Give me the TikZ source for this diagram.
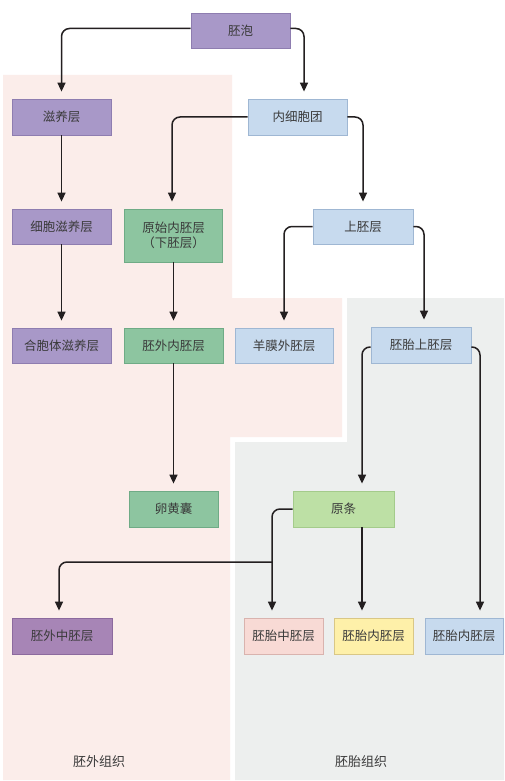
\documentclass[tikz,border=0pt]{standalone}
\usepackage{fontspec}
\setmainfont{Noto Sans CJK SC}
\usetikzlibrary{arrows.meta}
\definecolor{pinkbg}{HTML}{FBEDEA}
\definecolor{graybg}{HTML}{EDEFEE}
\definecolor{purf}{HTML}{A898C8}\definecolor{purd}{HTML}{8E7DB0}
\definecolor{bluf}{HTML}{C7DAEE}\definecolor{blud}{HTML}{9FB7D3}
\definecolor{grnf}{HTML}{8DC5A0}\definecolor{grnd}{HTML}{6FAB86}
\definecolor{lgrf}{HTML}{BDE0A5}\definecolor{lgrd}{HTML}{A4CB8B}
\definecolor{pnkf}{HTML}{F8DAD5}\definecolor{pnkd}{HTML}{D9B3AE}
\definecolor{yelf}{HTML}{FEF0A9}\definecolor{yeld}{HTML}{D9C786}
\definecolor{mauf}{HTML}{A785B6}\definecolor{maud}{HTML}{8C6A9E}
\definecolor{txt}{HTML}{3A3A3A}
\definecolor{lin}{HTML}{231F20}
\begin{document}
\begin{tikzpicture}[x=1pt,y=-1pt,
  box/.style={draw, line width=0.8pt, inner sep=0pt, align=center,
    text=txt, font=\fontsize{12.5}{15}\selectfont,
    minimum width=99pt, minimum height=35pt},
  purbox/.style={box, fill=purf, draw=purd},
  blubox/.style={box, fill=bluf, draw=blud},
  grnbox/.style={box, fill=grnf, draw=grnd},
  lgrbox/.style={box, fill=lgrf, draw=lgrd},
  pnkbox/.style={box, fill=pnkf, draw=pnkd},
  yelbox/.style={box, fill=yelf, draw=yeld},
  maubox/.style={box, fill=mauf, draw=maud},
  arr/.style={draw=lin, line width=1.5pt, rounded corners=8pt,
    -{Triangle[length=9pt,width=8pt]}},
  region/.style={font=\fontsize{13}{15}\selectfont, text=txt}]
\useasboundingbox (0,0) rectangle (504,781);
\fill[white] (0,0) rectangle (504,781);
% background regions
\fill[pinkbg] (3,75) -- (232,75) -- (232,298) -- (342,298) -- (342,437)
  -- (230,437) -- (230,780) -- (3,780) -- cycle;
\fill[graybg] (347,298) -- (504,298) -- (504,780) -- (235,780)
  -- (235,442) -- (347,442) -- cycle;
% nodes
\node[purbox] (bp) at (240.5,30.5) {胚泡};
\node[purbox, minimum height=36pt] (zy) at (61.5,117) {滋养层};
\node[blubox, minimum height=36pt] (nx) at (297.5,117) {内细胞团};
\node[purbox] (xb) at (61.5,226.5) {细胞滋养层};
\node[grnbox, minimum width=98pt, minimum height=53pt] (ys) at (173.5,235.5) {原始内胚层\\（下胚层）};
\node[blubox, minimum width=100pt] (sp) at (363,226.5) {上胚层};
\node[purbox] (hb) at (61.5,345.5) {合胞体滋养层};
\node[grnbox] (wn) at (173.5,345.5) {胚外内胚层};
\node[blubox, minimum width=98pt] (ym) at (284,345.5) {羊膜外胚层};
\node[blubox, minimum width=100pt, minimum height=36pt] (ts) at (421,345) {胚胎上胚层};
\node[grnbox, minimum width=89pt, minimum height=36pt] (lh) at (173.5,509) {卵黄囊};
\node[lgrbox, minimum width=101pt, minimum height=36pt] (yt) at (343.5,509) {原条};
\node[maubox, minimum width=100pt, minimum height=36pt] (wz) at (62,636) {胚外中胚层};
\node[pnkbox, minimum width=79pt, minimum height=36pt] (tz) at (283.5,636) {胚胎中胚层};
\node[yelbox, minimum width=79pt, minimum height=36pt] (tn) at (373.5,636) {胚胎内胚层};
\node[blubox, minimum width=78pt, minimum height=36pt] (tw) at (464,636) {胚胎内胚层};
\node[region] (lbl1) at (99,762) {胚外组织};
\node[region] (lbl2) at (361,762) {胚胎组织};
\coordinate (j) at (272,562);
% connectors
\draw[arr] ([yshift=2pt]bp.west) -| ([yshift=7pt]zy.north);
\draw[arr] ([yshift=2pt]bp.east) -| ([xshift=6.5pt,yshift=7pt]nx.north);
\draw[arr] (nx.west) -| ([xshift=-1.5pt,yshift=7pt]ys.north);
\draw[arr] (nx.east) -| ([yshift=7pt]sp.north);
\draw[arr] (zy.south) -- ([yshift=7pt]xb.north);
\draw[arr] (sp.west) -| ([yshift=7pt]ym.north);
\draw[arr] (sp.east) -| ([xshift=3pt,yshift=7pt]ts.north);
\draw[arr] (xb.south) -- ([yshift=7pt]hb.north);
\draw[arr] (ys.south) -- ([yshift=7pt]wn.north);
\draw[arr] (wn.south) -- ([yshift=7pt]lh.north);
\draw[arr] ([yshift=-2pt]ts.west) -| ([xshift=18.5pt,yshift=7pt]yt.north);
\draw[arr] ([yshift=-2pt]ts.east) -| ([xshift=16pt,yshift=7pt]tw.north);
\draw[arr] (yt.west) -| ([xshift=-11.5pt,yshift=7pt]tz.north);
\draw[arr] (j) -| ([xshift=-3pt,yshift=7pt]wz.north);
\draw[arr] ([xshift=18.5pt]yt.south) -- ([xshift=-11.5pt,yshift=7pt]tn.north);
\end{tikzpicture}
\end{document}
